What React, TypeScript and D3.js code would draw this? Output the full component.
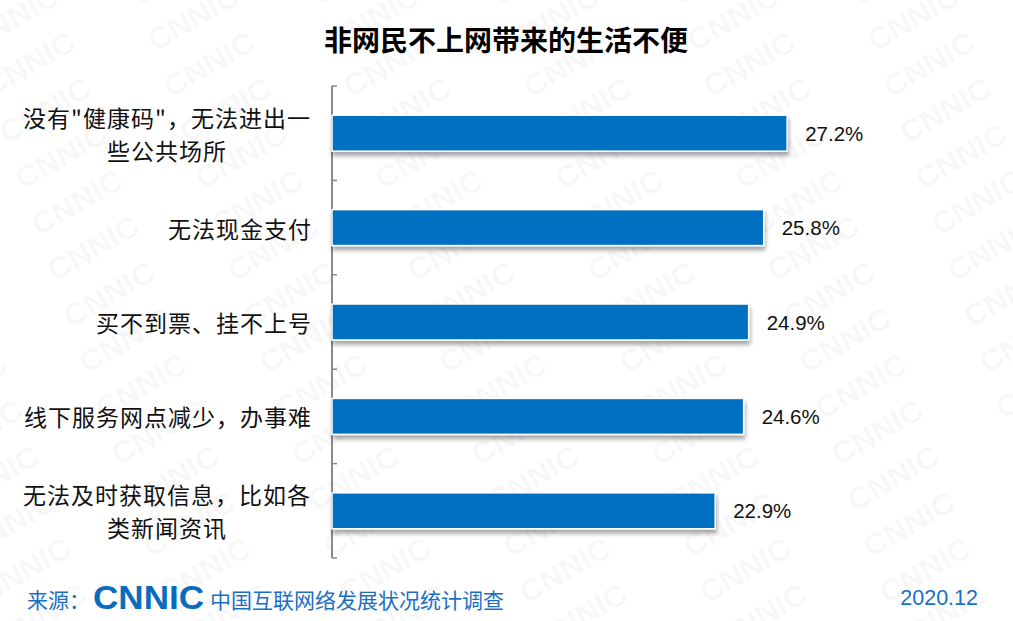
import React from "react";
import * as d3 from "d3";

const categories: string[][] = [
  ['没有"健康码"，无法进出一', "些公共场所"],
  ["无法现金支付"],
  ["买不到票、挂不上号"],
  ["线下服务网点减少，办事难"],
  ["无法及时获取信息，比如各", "类新闻资讯"],
];
const values: number[] = [27.2, 25.8, 24.9, 24.6, 22.9];
const title = "非网民不上网带来的生活不便";
const sourceLabel = "来源：";
const sourceText = "中国互联网络发展状况统计调查";
const dateText = "2020.12";

const W = 1013;
const H = 621;
const CJK = '"Microsoft YaHei", "Noto Sans CJK SC", sans-serif';
const LAT = '"Liberation Sans", Arial, sans-serif';

export default function App() {
  const y = d3
    .scaleBand<number>()
    .domain(d3.range(categories.length))
    .range([86, 558])
    .paddingInner(0.619)
    .paddingOuter(0.3095);
  const x = d3.scaleLinear().domain([0, 30]).range([332, 834]);
  const step = y.step();
  const ticks = d3.range(categories.length + 1).map((i) => 86 + i * step);

  // watermark grid
  const marks: { cx: number; cy: number }[] = [];
  for (let r = -2; r < 16; r++) {
    for (let c = -1; c < 7; c++) {
      marks.push({ cx: 13 + c * 180 + r * 16, cy: 18 + r * 46 });
    }
  }

  return (
    <svg width={W} height={H} style={{ display: "block", position: "absolute", left: 0, top: 0 }}>
      <defs>
        <filter id="shadow" x="-5%" y="-20%" width="110%" height="160%">
          <feDropShadow dx="1" dy="4" stdDeviation="2" floodColor="#000" floodOpacity="0.35" />
        </filter>
        <linearGradient id="footline" x1="0" x2="1" y1="0" y2="0">
          <stop offset="0" stopColor="#6FA3DC" />
          <stop offset="1" stopColor="#4F8FD6" />
        </linearGradient>
      </defs>
      <rect x={0} y={0} width={W} height={H} fill="#fff" />
      {marks.map((m, i) => (
        <text
          key={i}
          x={m.cx}
          y={m.cy}
          transform={`rotate(-30 ${m.cx} ${m.cy})`}
          textAnchor="middle"
          dominantBaseline="central"
          fontFamily={LAT}
          fontWeight={700}
          fontSize={30}
          textLength={100}
          lengthAdjust="spacingAndGlyphs"
          fill="#000"
          fillOpacity={0.04}
        >
          CNNIC
        </text>
      ))}

      <text x={506} y={39} textAnchor="middle" dominantBaseline="central" fontFamily={CJK} fontWeight={700} fontSize={28} fill="#000">
        {title}
      </text>

      {/* axis */}
      <line x1={332} x2={332} y1={86} y2={558} stroke="#8a8a8a" strokeWidth={2} />
      {ticks.map((t, i) => (
        <line key={i} x1={332} x2={337} y1={t} y2={t} stroke="#8a8a8a" strokeWidth={1.5} />
      ))}

      {values.map((v, i) => {
        const by = y(i)!;
        const bh = y.bandwidth();
        return (
          <g key={i}>
            <rect
              x={x(0)}
              y={by}
              width={x(v) - x(0)}
              height={bh}
              fill="#0570C1"
              stroke="#fff"
              strokeWidth={1.5}
              filter="url(#shadow)"
            />
            <text x={x(v) + 18} y={by + bh / 2} dominantBaseline="central" fontFamily={LAT} fontSize={20.5} fill="#111">
              {v.toFixed(1)}%
            </text>
          </g>
        );
      })}

      {categories.map((lines, i) => {
        const cy = y(i)! + y.bandwidth() / 2;
        const lh = 33;
        const multi = lines.length > 1;
        return (
          <g key={i}>
            {lines.map((l, j) => (
              <text
                key={j}
                x={multi ? 167 : 312}
                y={cy + (j - (lines.length - 1) / 2) * lh}
                textAnchor={multi ? "middle" : "end"}
                dominantBaseline="central"
                fontFamily={CJK}
                fontSize={23}
                letterSpacing={1}
                fill="#111"
              >
                {l}
              </text>
            ))}
          </g>
        );
      })}

      {/* footer */}
      <line x1={8} x2={1003} y1={573} y2={573} stroke="url(#footline)" strokeWidth={2.5} />
      <text x={27} y={599} dominantBaseline="central" fontFamily={CJK} fontSize={21} fill="#1B6FC2">
        {sourceLabel}
      </text>
      <text
        x={93}
        y={609}
        fontFamily={LAT}
        fontWeight={700}
        fontSize={34}
        textLength={111}
        lengthAdjust="spacingAndGlyphs"
        fill="#0A6CBC"
      >
        CNNIC
      </text>
      <text x={210} y={599} dominantBaseline="central" fontFamily={CJK} fontSize={21} fill="#1B6FC2">
        {sourceText}
      </text>
      <text x={978} y={598} textAnchor="end" dominantBaseline="central" fontFamily={LAT} fontSize={21.5} fill="#1B6FC2">
        {dateText}
      </text>
    </svg>
  );
}
